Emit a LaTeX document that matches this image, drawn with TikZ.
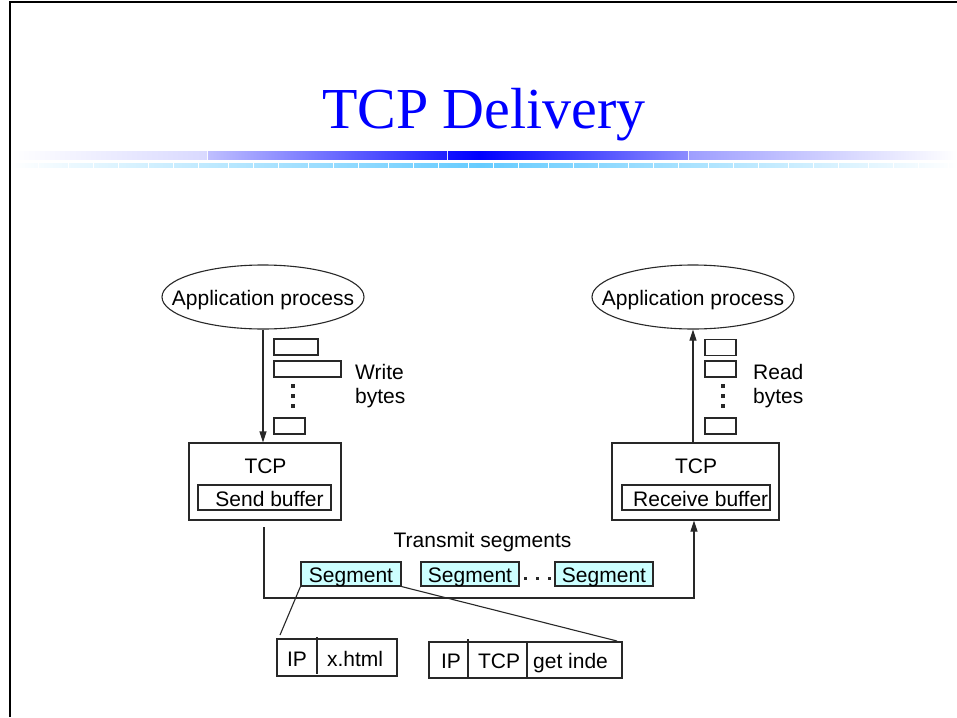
\documentclass[tikz,border=0pt]{standalone}
\usepackage{fontspec}
\setmainfont{Liberation Sans}
\newfontfamily\titlefont{Liberation Serif}
\usetikzlibrary{shapes.geometric,arrows.meta}
\definecolor{segfill}{RGB}{204,255,255}
\definecolor{barcyan}{RGB}{102,204,255}
\definecolor{ink}{RGB}{40,40,40}
\begin{document}
\begin{tikzpicture}[x=1pt,y=-1pt,
  txt/.style={font=\fontsize{21pt}{24pt}\selectfont, inner sep=0pt},
  lbl/.style={txt, anchor=base},
  lblw/.style={txt, anchor=base west},
  conn/.style={draw=ink, line width=1.1pt},
  box/.style={draw=ink, line width=1.1pt, rectangle, inner sep=0pt},
  appell/.style={ellipse, draw=ink, line width=1.1pt, txt, inner xsep=-30pt, inner ysep=0pt,
                 minimum width=202pt, minimum height=64pt, text height=16pt, text depth=0pt},
  seg/.style={box, fill=segfill, txt, minimum height=24pt, text height=16pt, text depth=0pt},
  arr/.style={-{Triangle[length=11pt,width=7pt]}},
  dotmark/.style={fill=ink, inner sep=0pt, minimum width=3.5pt, minimum height=3.5pt, rectangle}
]
\useasboundingbox (0,0) rectangle (957,717);
\fill[white] (0,0) rectangle (957,717);

% title bars
\shade[left color=white, right color=blue!15] (11,151) rectangle (207,159);
\shade[left color=blue!25, right color=blue!88] (208,151) rectangle (447,159);
\shade[left color=blue!93, right color=blue] (448,151) rectangle (480,159);
\shade[left color=blue, right color=blue!45] (480,151) rectangle (688,159);
\shade[left color=blue!38, right color=white] (689,151) rectangle (957,159);
\shade[left color=white, right color=barcyan] (11,163) rectangle (480,167);
\shade[left color=barcyan, right color=white] (480,163) rectangle (957,167);
\foreach \k in {-5,...,5} \foreach \d in {0,25,50}
  \fill[white] ({468+80*\k+\d-0.5},162.5) rectangle ++(1,5);
\foreach \xx in {13,38,948}
  \fill[white] ({\xx-0.5},162.5) rectangle ++(1,5);

% frame
\draw[line width=2.5pt, black] (10,717) -- (10,2.2) -- (957,2.2);

% title
\node[anchor=base, font=\titlefont\fontsize{58pt}{60pt}\selectfont, text=blue, inner sep=0pt] (title) at (484,128) {TCP Delivery};

% application processes
\node[appell] (appL) at (263,297) {Application process};
\node[appell] (appR) at (693,297) {Application process};

% TCP boxes
\node[box, minimum width=152pt, minimum height=77pt] (tcpL) at (265,481.5) {};
\node[lbl] (tcpLt) at (265.5,473) {TCP};
\node[box, minimum width=133pt, minimum height=25pt] (sendbuf) at (264.5,497.5) {};
\node[lbl] (sendbuft) at (269.5,506) {Send buffer};

\node[box, minimum width=167pt, minimum height=77pt] (tcpR) at (695.5,481.5) {};
\node[lbl] (tcpRt) at (696,473) {TCP};
\node[box, minimum width=148pt, minimum height=25pt] (rcvbuf) at (696,497.5) {};
\node[lblw] (rcvbuft) at (633,506) {Receive buffer};

% write bytes
\node[box, minimum width=44pt, minimum height=16pt] (wb1) at (296,347) {};
\node[box, minimum width=67pt, minimum height=16pt] (wb2) at (307.5,369) {};
\node[dotmark] (wd1) at (293,386) {};
\node[dotmark] (wd2) at (293,396) {};
\node[dotmark] (wd3) at (293,406) {};
\node[box, minimum width=31pt, minimum height=16pt] (wb3) at (289.5,426) {};
\node[lblw] (writet) at (355,379) {Write};
\node[lblw] (wbytest) at (355,403) {bytes};

% read bytes
\node[box, minimum width=31pt, minimum height=16pt] (rb1) at (720.5,347.5) {};
\node[box, minimum width=31pt, minimum height=16pt] (rb2) at (720.5,369) {};
\node[dotmark] (rd1) at (723,386) {};
\node[dotmark] (rd2) at (723,396) {};
\node[dotmark] (rd3) at (723,406) {};
\node[box, minimum width=31pt, minimum height=16pt] (rb3) at (720.5,426) {};
\node[lblw] (readt) at (753,379) {Read};
\node[lblw] (rbytest) at (753,403) {bytes};

% vertical arrows
\draw[conn, arr] (appL.south) -- (appL.south |- tcpL.north);
\draw[conn, arr] (tcpR.north -| appR.south) -- (appR.south);

% transmit path
\node[lbl] (transt) at (482.5,547) {Transmit segments};
\coordinate (sendout) at (264,527);
\coordinate (rcvcorner) at (694,598);
\draw[conn, arr] (sendout) |- (rcvcorner) -- (rcvcorner |- tcpR.south);

\node[seg, minimum width=100pt] (seg1) at (351,574) {Segment};
\node[seg, minimum width=98pt] (seg2) at (470,574) {Segment};
\node[seg, minimum width=98pt] (seg3) at (604,574) {Segment};
\node[dotmark, minimum width=3pt, minimum height=3pt] (hd1) at (525,578) {};
\node[dotmark, minimum width=3pt, minimum height=3pt] (hd2) at (537,578) {};
\node[dotmark, minimum width=3pt, minimum height=3pt] (hd3) at (549,578) {};

% packets
\node[box, minimum width=120pt, minimum height=37pt] (pktA) at (337,657.5) {};
\draw[conn] (317,637) -- (317,674);
\node[lbl] (pktAip) at (297,666) {IP};
\node[lbl] (pktAx) at (355,666) {x.html};

\node[box, minimum width=193pt, minimum height=36pt] (pktB) at (525.5,660) {};
\draw[conn] (468,639) -- (468,677);
\draw[conn] (527,642) -- (527,678);
\node[lbl] (pktBip) at (451,668) {IP};
\node[lbl] (pktBtcp) at (499,668) {TCP};
\node[lblw] (pktBget) at (533,668) {get inde};

\coordinate (pktAtip) at (280,635);
\coordinate (pktBtip) at (617,641);
\draw[conn] (seg1.south west) -- (pktAtip);
\draw[conn] (seg1.south east) -- (pktBtip);
\end{tikzpicture}
\end{document}
